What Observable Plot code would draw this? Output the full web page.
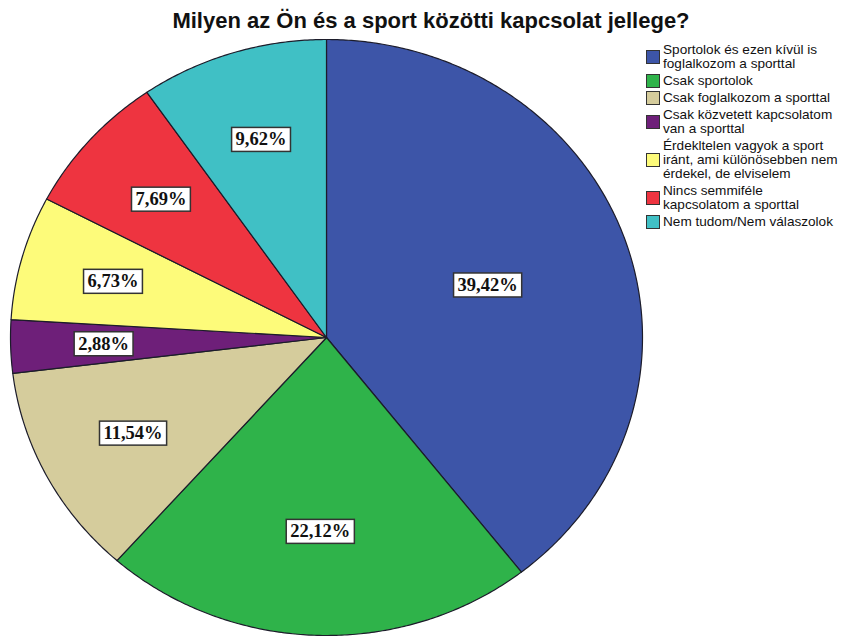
<!DOCTYPE html>
<html>
<head>
<meta charset="utf-8">
<script src="https://cdn.jsdelivr.net/npm/d3@7"></script>
<script src="https://cdn.jsdelivr.net/npm/@observablehq/plot@0.6"></script>
<style>
  html, body { margin: 0; padding: 0; background: #fff; }
  #wrap { position: relative; width: 853px; height: 637px; overflow: hidden; font-family: "Liberation Sans", Arial, sans-serif; }
  #title { position: absolute; left: 0; width: 862px; top: 8px; text-align: center; font-weight: bold; font-size: 22px; color: #111; white-space: nowrap; }
  #chart { position: absolute; left: 0; top: 0; }
  #legend { position: absolute; left: 646px; top: 43px; font-size: 13.6px; color: #111; }
  .item { display: flex; align-items: center; margin-bottom: 3px; }
  .sw { width: 12px; height: 12px; border: 1px solid #333; margin-right: 3px; flex: none; }
  .txt { line-height: 14px; white-space: nowrap; }
</style>
</head>
<body>
<div id="wrap">
  <div id="chart"></div>
  <div id="title">Milyen az Ön és a sport közötti kapcsolat jellege?</div>
  <div id="legend"></div>
</div>
<script>
const title = "Milyen az Ön és a sport közötti kapcsolat jellege?";
const categories = [
  "Sportolok és ezen kívül is foglalkozom a sporttal",
  "Csak sportolok",
  "Csak foglalkozom a sporttal",
  "Csak közvetett kapcsolatom van a sporttal",
  "Érdekltelen vagyok a sport iránt, ami különösebben nem érdekel, de elviselem",
  "Nincs semmiféle kapcsolatom a sporttal",
  "Nem tudom/Nem válaszolok"
];
const legendLines = [
  ["Sportolok és ezen kívül is", "foglalkozom a sporttal"],
  ["Csak sportolok"],
  ["Csak foglalkozom a sporttal"],
  ["Csak közvetett kapcsolatom", "van a sporttal"],
  ["Érdekltelen vagyok a sport", "iránt, ami különösebben nem", "érdekel, de elviselem"],
  ["Nincs semmiféle", "kapcsolatom a sporttal"],
  ["Nem tudom/Nem válaszolok"]
];
const percents = [39.42, 22.12, 11.54, 2.88, 6.73, 7.69, 9.62];
const colors = ["#3d55a8", "#2fb34a", "#d5cc9c", "#6e1f79", "#fdfb7a", "#ee3440", "#40c0c5"];

// Build slice polygons (clockwise from 12 o'clock) from the percentages
const total = d3.sum(percents);
const points = [];
const labelData = [];
let acc = 0;
percents.forEach((p, i) => {
  const a0 = acc / total * 2 * Math.PI;
  acc += p;
  const a1 = acc / total * 2 * Math.PI;
  const cat = categories[i];
  points.push({cat, x: 0, y: 0});
  const n = Math.max(2, Math.ceil((a1 - a0) / (Math.PI / 360)));
  for (let k = 0; k <= n; ++k) {
    const a = a0 + (a1 - a0) * k / n;
    points.push({cat, x: Math.sin(a), y: Math.cos(a)});
  }
  const th = a1 - a0;
  const am = (a0 + a1) / 2;
  const r = 1.06 * 4 * Math.sin(th / 2) / (3 * th);
  labelData.push({cat, x: r * Math.sin(am), y: r * Math.cos(am), text: p.toFixed(2).replace(".", ",") + "%"});
});

const plot = Plot.plot({
  width: 853,
  height: 637,
  marginLeft: 10,
  marginRight: 211,
  marginTop: 39,
  marginBottom: 2,
  x: {domain: [-1, 1], axis: null},
  y: {domain: [-1, 1], axis: null},
  color: {domain: categories, range: colors},
  style: {background: "transparent"},
  marks: [
    Plot.line(points, {x: "x", y: "y", z: "cat", fill: "cat", stroke: "#1c1c2a", strokeWidth: 1.2, curve: "linear-closed"}),
    Plot.text(labelData, {x: "x", y: "y", text: "text", fontFamily: "Liberation Serif", fontWeight: "bold", fontSize: 18.5, fill: "#111", className: "pct-label"})
  ]
});
document.getElementById("chart").appendChild(plot);

// white boxes with dark border behind the percentage labels
d3.select(plot).selectAll("g.pct-label text").each(function() {
  const b = this.getBBox();
  const padX = 4, padY = 2;
  const rect = d3.select(this.parentNode).insert("rect", () => this)
    .attr("x", b.x - padX).attr("y", b.y - padY)
    .attr("width", b.width + 2 * padX).attr("height", b.height + 2 * padY)
    .attr("fill", "white").attr("stroke", "#333").attr("stroke-width", 1.5);
  const t = this.getAttribute("transform");
  if (t) rect.attr("transform", t);
});

// legend
const legend = d3.select("#legend");
categories.forEach((c, i) => {
  const item = legend.append("div").attr("class", "item");
  item.append("div").attr("class", "sw").style("background", colors[i]);
  item.append("div").attr("class", "txt").html(legendLines[i].join("<br>"));
});
</script>
</body>
</html>
